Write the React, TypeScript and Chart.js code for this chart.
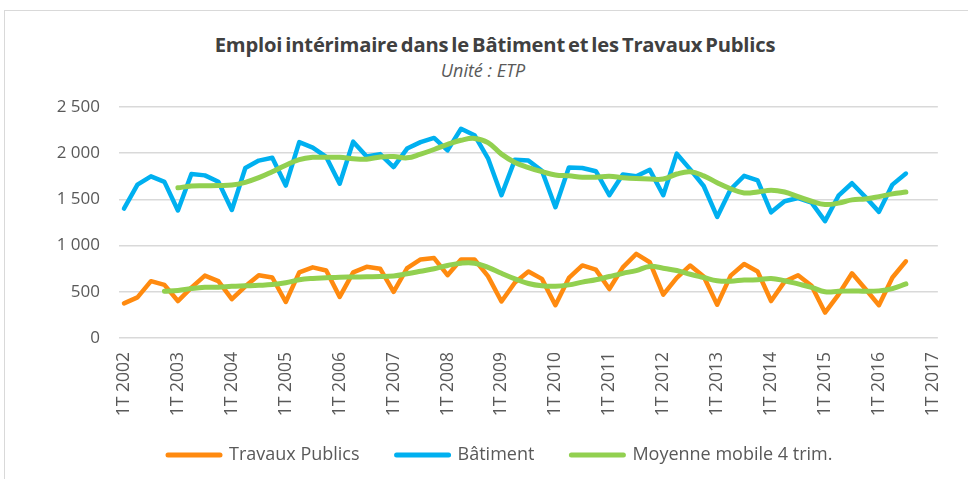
import React, { useEffect, useRef } from 'react';
import { Chart, registerables } from 'chart.js';

Chart.register(...registerables);

// Tick labels of the category axis (one every 4 quarters)
const yearTickLabels = [
  '1T 2002', '1T 2003', '1T 2004', '1T 2005', '1T 2006', '1T 2007', '1T 2008', '1T 2009',
  '1T 2010', '1T 2011', '1T 2012', '1T 2013', '1T 2014', '1T 2015', '1T 2016', '1T 2017',
];

// Quarterly values, 1T 2002 → 3T 2016
const batiment = [
  1400, 1660, 1750, 1690, 1380, 1775, 1760, 1690, 1385, 1840,
  1920, 1950, 1650, 2120, 2060, 1960, 1670, 2125, 1965, 1990,
  1850, 2050, 2120, 2165, 2030, 2265, 2195, 1945, 1545, 1930,
  1920, 1810, 1415, 1845, 1840, 1805, 1545, 1770, 1750, 1820,
  1545, 1995, 1825, 1645, 1310, 1610, 1755, 1705, 1360, 1480,
  1515, 1465, 1265, 1540, 1675, 1525, 1365, 1660, 1780,
];

const travauxPublics = [
  375, 440, 615, 575, 400, 545, 675, 615, 420, 560,
  680, 655, 390, 710, 765, 730, 445, 710, 770, 750,
  500, 755, 850, 865, 680, 850, 850, 670, 395, 600,
  720, 640, 355, 650, 785, 740, 530, 765, 910, 820,
  470, 650, 785, 665, 360, 675, 800, 720, 400, 610,
  680, 565, 275, 470, 700, 530, 355, 655, 830,
];

const moyenneBatiment = [
  null, null, null, null, 1625, 1645, 1648, 1650, 1655, 1685,
  1735, 1800, 1870, 1930, 1955, 1955, 1955, 1940, 1935, 1960,
  1965, 1950, 1990, 2040, 2095, 2140, 2160, 2115, 1990, 1900,
  1845, 1800, 1765, 1755, 1740, 1740, 1750, 1735, 1725, 1720,
  1720, 1775, 1800, 1755, 1680, 1615, 1570, 1580, 1600, 1580,
  1530, 1480, 1445, 1460, 1495, 1505, 1530, 1560, 1580,
];

const moyenneTP = [
  null, null, null, 505, 515, 535, 548, 550, 560, 565,
  570, 578, 598, 630, 645, 652, 658, 660, 663, 665,
  672, 695, 722, 750, 785, 810, 810, 765, 700, 640,
  590, 565, 560, 575, 605, 630, 665, 700, 730, 775,
  755, 730, 690, 655, 620, 615, 628, 630, 645, 620,
  585, 548, 500, 505, 510, 505, 510, 535, 585,
];

const seriesNames = ['Travaux Publics', 'Bâtiment', 'Moyenne mobile 4 trim.'];
const colors = { tp: '#FF8A0F', bat: '#00B0F0', mm: '#92D050' };
const legendColors = [colors.tp, colors.bat, colors.mm];

const toPoints = (arr: (number | null)[]) =>
  arr.map((v, i) => ({ x: i, y: v })).filter((p) => p.y !== null);

const fmt = (v: number) => String(v).replace(/\B(?=(\d{3})+(?!\d))/g, ' ');

const FONT = '"Open Sans", Roboto, sans-serif';

// place the legend row where the reference has it
const legendShift = {
  id: 'legendShift',
  afterLayout(chart: any) {
    const lg = chart.legend;
    if (lg) {
      lg.left = 131;
      lg.right = 968;
      lg.top = 409;
      lg.bottom = 479;
      lg.width = 968 - 131;
      lg.height = 70;
    }
  },
};

export default function App() {
  const ref = useRef<HTMLCanvasElement | null>(null);

  useEffect(() => {
    if (!ref.current) return;
    const lineBase = {
      pointRadius: 0,
      pointHoverRadius: 0,
      borderJoinStyle: 'round' as const,
      borderCapStyle: 'round' as const,
    };
    const chart = new Chart(ref.current, {
      type: 'line',
      data: {
        datasets: [
          {
            ...lineBase,
            label: seriesNames[0],
            data: toPoints(travauxPublics),
            borderColor: colors.tp,
            backgroundColor: colors.tp,
            borderWidth: 4.5,
            tension: 0,
            order: 2,
          },
          {
            ...lineBase,
            label: seriesNames[1],
            data: toPoints(batiment),
            borderColor: colors.bat,
            backgroundColor: colors.bat,
            borderWidth: 4.5,
            tension: 0,
            order: 2,
          },
          {
            ...lineBase,
            label: seriesNames[2],
            data: toPoints(moyenneBatiment),
            borderColor: colors.mm,
            backgroundColor: colors.mm,
            borderWidth: 5,
            tension: 0.4,
            order: 1,
          },
          {
            ...lineBase,
            label: seriesNames[2] + ' (TP)',
            data: toPoints(moyenneTP),
            borderColor: colors.mm,
            backgroundColor: colors.mm,
            borderWidth: 5,
            tension: 0.4,
            order: 1,
          },
        ],
      },
      options: {
        animation: false,
        responsive: false,
        maintainAspectRatio: false,
        layout: { padding: { top: 107, left: 0, right: 20, bottom: 0 } },
        plugins: {
          title: { display: false },
          tooltip: { enabled: false },
          legend: {
            position: 'bottom',
            align: 'start',
            maxHeight: 50,
            labels: {
              usePointStyle: true,
              pointStyleWidth: 52,
              padding: 37,
              color: '#595959',
              font: { family: FONT, size: 18 },
              generateLabels: () =>
                seriesNames.map((name, i) => ({
                  text: name,
                  fillStyle: legendColors[i],
                  strokeStyle: legendColors[i],
                  lineWidth: 5,
                  lineCap: 'round',
                  pointStyle: 'line',
                  rotation: 0,
                  hidden: false,
                  datasetIndex: i,
                  fontColor: '#595959',
                } as any)),
            },
          },
        },
        scales: {
          x: {
            type: 'linear',
            min: -0.37,
            max: 60.37,
            afterBuildTicks: (scale: any) => {
              scale.ticks = yearTickLabels.map((_, k) => ({ value: k * 4 }));
            },
            afterFit: (scale: any) => {
              scale.height = 91;
            },
            grid: { display: false, drawTicks: false },
            border: { display: false },
            ticks: {
              autoSkip: false,
              minRotation: 90,
              maxRotation: 90,
              padding: 14,
              color: '#595959',
              font: { family: FONT, size: 17.5 },
              callback: (v: any) => yearTickLabels[Math.round(Number(v) / 4)] ?? '',
            },
          },
          y: {
            min: 0,
            max: 2500,
            afterFit: (scale: any) => {
              scale.width = 119;
            },
            grid: { color: '#d9d9d9', lineWidth: 1.5, drawTicks: false },
            border: { display: false },
            ticks: {
              stepSize: 500,
              padding: 19,
              color: '#595959',
              font: { family: FONT, size: 17 },
              callback: (v: any) => fmt(Number(v)),
            },
          },
        },
      },
      plugins: [legendShift],
    });
    return () => chart.destroy();
  }, []);

  return (
    <div style={{ position: 'fixed', left: 0, top: 0, width: 968, height: 479, background: '#fff', overflow: 'hidden' }}>
      <div
        style={{
          position: 'absolute',
          left: 4,
          top: 10,
          width: 1000,
          height: 500,
          border: '1px solid #d9d9d9',
          boxSizing: 'border-box',
        }}
      />
      <div
        style={{
          position: 'absolute',
          left: 0,
          width: 990,
          top: 31,
          textAlign: 'center',
          fontFamily: FONT,
          fontWeight: 700,
          fontSize: 20.2,
          lineHeight: '26px',
          letterSpacing: '-0.2px',
          wordSpacing: '-2px',
          color: '#404040',
          whiteSpace: 'nowrap',
        }}
      >
        Emploi intérimaire dans le Bâtiment et les Travaux Publics
      </div>
      <div
        style={{
          position: 'absolute',
          left: 0,
          width: 966,
          top: 57,
          textAlign: 'center',
          fontFamily: FONT,
          fontStyle: 'italic',
          fontSize: 18,
          lineHeight: '26px',
          color: '#595959',
          whiteSpace: 'nowrap',
        }}
      >
        Unité : ETP
      </div>
      <canvas ref={ref} width={968} height={479} style={{ position: 'absolute', left: 0, top: 0, width: 968, height: 479 }} />
    </div>
  );
}
